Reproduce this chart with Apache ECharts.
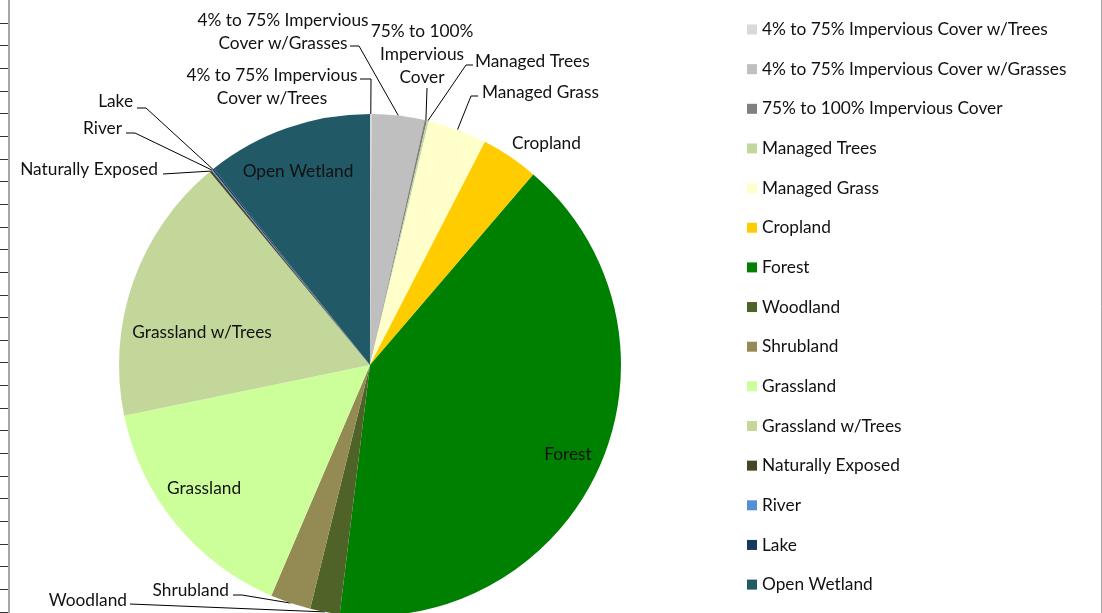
<!DOCTYPE html>
<html>
<head>
<meta charset="utf-8">
<style>
  html, body { margin: 0; padding: 0; background: #fff; }
  #chart { width: 1102px; height: 613px; }
</style>
<script src="https://cdn.jsdelivr.net/npm/echarts@6/dist/echarts.min.js"></script>
</head>
<body>
<div id="chart"></div>
<script>
// land cover classes, clockwise from 12 o'clock
const categories = [
  '4% to 75% Impervious Cover w/Trees',
  '4% to 75% Impervious Cover w/Grasses',
  '75% to 100% Impervious Cover',
  'Managed Trees',
  'Managed Grass',
  'Cropland',
  'Forest',
  'Woodland',
  'Shrubland',
  'Grassland',
  'Grassland w/Trees',
  'Naturally Exposed',
  'River',
  'Lake',
  'Open Wetland'
];
// share of area (%)
const shares = [0.1, 3.4, 0.14, 0.12, 3.8, 3.7, 40.6, 1.9, 2.6, 15.3, 17.2, 0.15, 0.06, 0.1, 10.7];
const colors = [
  '#d9d9d9', '#bfbfbf', '#808080', '#c4d79b', '#ffffcc', '#ffcc00', '#008000',
  '#4f6228', '#948a54', '#ccff99', '#c4d79b', '#494529', '#558ed5', '#17375e', '#215967'
];
// slice label texts (with the line breaks used on the chart)
const sliceLabels = [
  '4% to 75% Impervious\nCover w/Trees',
  '4% to 75% Impervious\nCover w/Grasses',
  '75% to 100%\nImpervious\nCover',
  'Managed Trees',
  'Managed Grass',
  'Cropland',
  'Forest',
  'Woodland',
  'Shrubland',
  'Grassland',
  'Grassland w/Trees',
  'Naturally Exposed',
  'River',
  'Lake',
  'Open Wetland'
];

// where each label sits (px); ax/ay = end of leader line, bend = short horizontal piece
const labelPlace = {
  '4% to 75% Impervious Cover w/Trees': { x: 272, y: 87, align: 'center', ax: 360, ay: 79, bend: 11 },
  '4% to 75% Impervious Cover w/Grasses': { x: 283, y: 32, align: 'center', ax: 350, ay: 46, bend: 9 },
  '75% to 100% Impervious Cover': { x: 422, y: 54, align: 'center', ax: 427, ay: 88, bend: 0 },
  'Managed Trees': { x: 475, y: 61, align: 'left', ax: 473, ay: 65, bend: -7 },
  'Managed Grass': { x: 482, y: 92, align: 'left', ax: 478, ay: 96, bend: -7 },
  'Cropland': { x: 512, y: 143, align: 'left' },
  'Forest': { x: 568, y: 454, align: 'center' },
  'Woodland': { x: 127, y: 600, align: 'right', ax: 130, ay: 604, bend: 0 },
  'Shrubland': { x: 229, y: 590, align: 'right', ax: 233, ay: 595, bend: 9 },
  'Grassland': { x: 204, y: 488, align: 'center' },
  'Grassland w/Trees': { x: 202, y: 332, align: 'center' },
  'Naturally Exposed': { x: 158, y: 169, align: 'right', ax: 163, ay: 174, bend: 0 },
  'River': { x: 122, y: 128, align: 'right', ax: 126, ay: 133, bend: 9 },
  'Lake': { x: 133, y: 101, align: 'right', ax: 137, ay: 108, bend: 9 },
  'Open Wetland': { x: 298, y: 171, align: 'center' }
};
const insideLabels = ['Forest', 'Grassland', 'Grassland w/Trees', 'Open Wetland'];

const CX = 370, CY = 365, R = 251;
const FONT = 17.3;

// mid angle of every slice (deg, clockwise from top)
const total = shares.reduce((a, b) => a + b, 0);
const midAngles = [];
let acc = 0;
shares.forEach((v) => {
  midAngles.push((acc + v / 2) / total * 360);
  acc += v;
});

// sheet border on the left (row lines) and right edge
const frame = [
  { type: 'line', silent: true, shape: { x1: 9, y1: 0, x2: 9, y2: 613 }, style: { stroke: '#a6a6a6', lineWidth: 2 } },
  { type: 'line', silent: true, shape: { x1: 1101.5, y1: 0, x2: 1101.5, y2: 613 }, style: { stroke: '#a6a6a6', lineWidth: 1 } }
];
for (let y = 22.7; y < 613; y += 22.65) {
  const yy = Math.round(y) + 0.5;
  frame.push({ type: 'line', silent: true, shape: { x1: 0, y1: yy, x2: 8, y2: yy }, style: { stroke: '#333', lineWidth: 1 } });
}

const chart = echarts.init(document.getElementById('chart'));

chart.setOption({
  animation: false,
  backgroundColor: '#fff',
  textStyle: { fontFamily: 'Lato' },
  graphic: frame,
  legend: {
    orient: 'vertical',
    left: 742,
    top: 16,
    icon: 'rect',
    itemWidth: 10,
    itemHeight: 10,
    itemGap: 22.65,
    data: categories,
    textStyle: { fontFamily: 'Lato', fontSize: FONT, lineHeight: 16, color: '#111' }
  },
  series: [
    {
      type: 'pie',
      center: [CX, CY],
      radius: R,
      startAngle: 90,
      clockwise: true,
      avoidLabelOverlap: false,
      itemStyle: { borderWidth: 0 },
      emphasis: { scale: false },
      label: { fontFamily: 'Lato', fontSize: FONT, lineHeight: 23, color: '#111' },
      labelLine: { show: true, length: 5, length2: 5, lineStyle: { color: '#000', width: 1 } },
      labelLayout: function (p) {
        const name = categories[p.dataIndex];
        const pl = labelPlace[name];
        const out = { x: pl.x, y: pl.y, align: pl.align, verticalAlign: 'middle' };
        if (pl.ax !== undefined) {
          const a = midAngles[p.dataIndex] * Math.PI / 180;
          const ex = CX + R * Math.sin(a);
          const ey = CY - R * Math.cos(a);
          out.labelLinePoints = [[ex, ey], [pl.ax + pl.bend, pl.ay], [pl.ax, pl.ay]];
        }
        return out;
      },
      data: categories.map((name, i) => {
        const inside = insideLabels.indexOf(name) >= 0;
        const hasLine = labelPlace[name].ax !== undefined;
        return {
          name: name,
          value: shares[i],
          itemStyle: { color: colors[i] },
          label: { position: inside ? 'inside' : 'outside', formatter: sliceLabels[i] },
          labelLine: { show: hasLine }
        };
      })
    }
  ]
});
</script>
</body>
</html>
